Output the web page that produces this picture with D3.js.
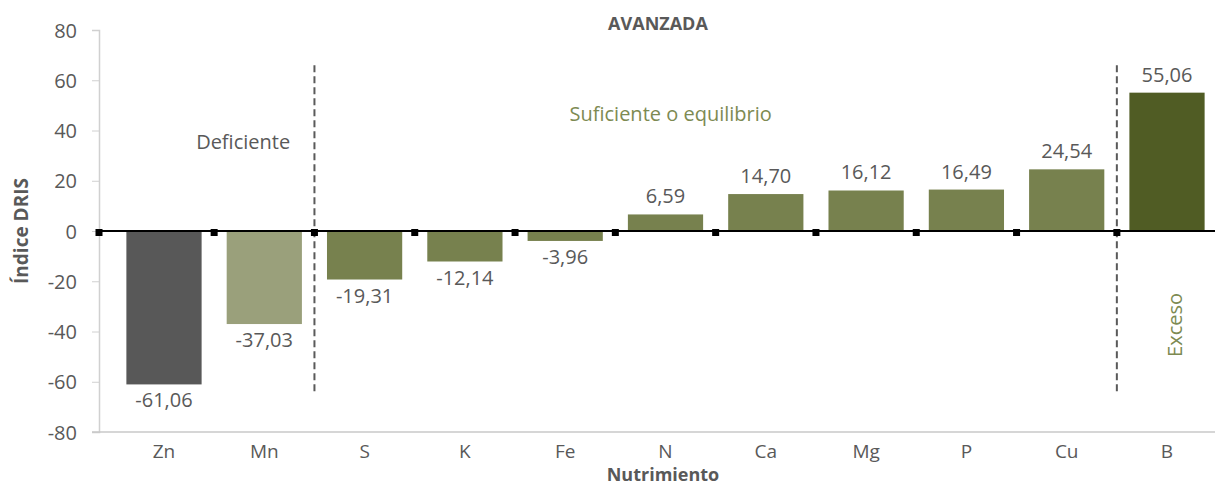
<!DOCTYPE html>
<html>
<head>
<meta charset="utf-8">
<script src="https://cdn.jsdelivr.net/npm/d3@7"></script>
<style>
  html, body { margin:0; padding:0; background:#fff; }
  svg { display:block; font-family: 'Open Sans', sans-serif; }
</style>
</head>
<body>
<svg id="chart" width="1215" height="486"></svg>
<script>
/* ---------- data ---------- */
const nutrients = ['Zn','Mn','S','K','Fe','N','Ca','Mg','P','Cu','B'];
const drisValues = [-61.06, -37.03, -19.31, -12.14, -3.96, 6.59, 14.70, 16.12, 16.49, 24.54, 55.06];
const barGroup = ['def','def2','suf','suf','suf','suf','suf','suf','suf','suf','exc'];
const yTicks = [-80,-60,-40,-20,0,20,40,60,80];
const dividers = ['S','B'];               // dashed lines sit before these categories
const zones = [
  { label:'Deficiente',              from:'Zn', to:'Mn', value:35,    kind:'def' },
  { label:'Suficiente o equilibrio', from:'S',  to:'Cu', value:46,    kind:'suf' },
  { label:'Exceso',                  from:'B',  to:'B',  value:-37.4, kind:'exc' }
];

const colors = { def:'#585858', def2:'#9aa07b', suf:'#77814e', exc:'#505c24' };
const textGrey = '#595959';
const zoneColor = { def:'#595959', suf:'#7d8a52', exc:'#7d8a52' };

/* ---------- setup ---------- */
const svg = d3.select('#chart');
const W = 1215, H = 486;
const left = 99;

const x = d3.scaleBand().domain(nutrients)
  .range([left, 1232]).paddingInner(0.25).paddingOuter(0.273);
const y = d3.scaleLinear().domain([-80, 80]).range([432, 30]);
const step = x.step();
const fmt = v => v.toFixed(2).replace('.', ',');

// y axis
const yAxis = svg.append('g').attr('transform', `translate(${left},0)`)
  .call(d3.axisLeft(y).tickValues(yTicks).tickSize(7).tickPadding(15).tickFormat(d => d));
yAxis.select('.domain').attr('stroke','#d0d0d0').attr('stroke-width',1.5);
yAxis.selectAll('.tick line').attr('stroke','#d0d0d0');
yAxis.selectAll('.tick text').attr('fill', textGrey).attr('dy','0.36em')
  .style('font-size','20px').style('font-family',"'Open Sans', sans-serif");

// bottom axis line
svg.append('line').attr('x1', left - 7).attr('x2', W).attr('y1', y(-80)).attr('y2', y(-80))
  .attr('stroke','#c8c8c8').attr('stroke-width',1.5);

// category labels
svg.append('g').selectAll('text').data(nutrients).join('text')
  .attr('x', d => x(d) + x.bandwidth()/2).attr('y', 458)
  .attr('text-anchor','middle').attr('fill', textGrey)
  .style('font-size','19px').text(d => d);

// bars
const data = nutrients.map((n,i) => ({ n, v: drisValues[i], g: barGroup[i] }));
svg.append('g').selectAll('rect').data(data).join('rect')
  .attr('x', d => x(d.n)).attr('width', x.bandwidth())
  .attr('y', d => y(Math.max(0, d.v))).attr('height', d => Math.abs(y(d.v) - y(0)))
  .attr('fill', d => colors[d.g]);

// value labels
svg.append('g').selectAll('text').data(data).join('text')
  .attr('x', d => x(d.n) + x.bandwidth()/2)
  .attr('y', d => d.v >= 0 ? y(d.v) - 11 : y(d.v) + 23)
  .attr('text-anchor','middle').attr('fill', textGrey)
  .style('font-size','20px').text(d => fmt(d.v));

// zero line
svg.append('line').attr('x1', left).attr('x2', W).attr('y1', y(0)).attr('y2', y(0))
  .attr('stroke','#000').attr('stroke-width',2);

// dashed dividers
svg.append('g').selectAll('line').data(dividers).join('line')
  .attr('x1', d => x(d) - step*(0.125)).attr('x2', d => x(d) - step*(0.125))
  .attr('y1', y(66)).attr('y2', y(-65))
  .attr('stroke','#5a5a5a').attr('stroke-width',2).attr('stroke-dasharray','7,4');

// boundary markers on zero line (first one sits on the axis)
svg.append('g').selectAll('rect').data(nutrients).join('rect')
  .attr('x', (d,i) => (i === 0 ? left : x(d) - step*0.125) - 3.5)
  .attr('y', y(0) - 2).attr('width',7).attr('height',7)
  .attr('fill','#000');

// zone annotations
zones.forEach(z => {
  const cx = (x(z.from) + x(z.to) + x.bandwidth())/2;
  const t = svg.append('text').attr('fill', zoneColor[z.kind])
    .attr('text-anchor','middle').style('font-size','20px').text(z.label);
  if (z.kind === 'exc') {
    t.attr('transform', `translate(${cx + 15},${y(z.value)}) rotate(-90)`);
  } else {
    t.attr('x', z.kind === 'def' ? cx + 29 : cx - 45).attr('y', y(z.value) + 6);
  }
});

// title and axis titles
svg.append('text').attr('x', 658).attr('y', 30).attr('text-anchor','middle')
  .attr('fill', textGrey).style('font-size','18px').style('font-weight','bold').text('AVANZADA');
svg.append('text').attr('x', 663).attr('y', 481).attr('text-anchor','middle')
  .attr('fill', textGrey).style('font-size','18px').style('font-weight','bold').text('Nutrimiento');
svg.append('text').attr('transform', `translate(28,${y(0)}) rotate(-90)`).attr('text-anchor','middle')
  .attr('fill', textGrey).style('font-size','19px').style('font-weight','bold').text('Índice DRIS');
</script>
</body>
</html>
